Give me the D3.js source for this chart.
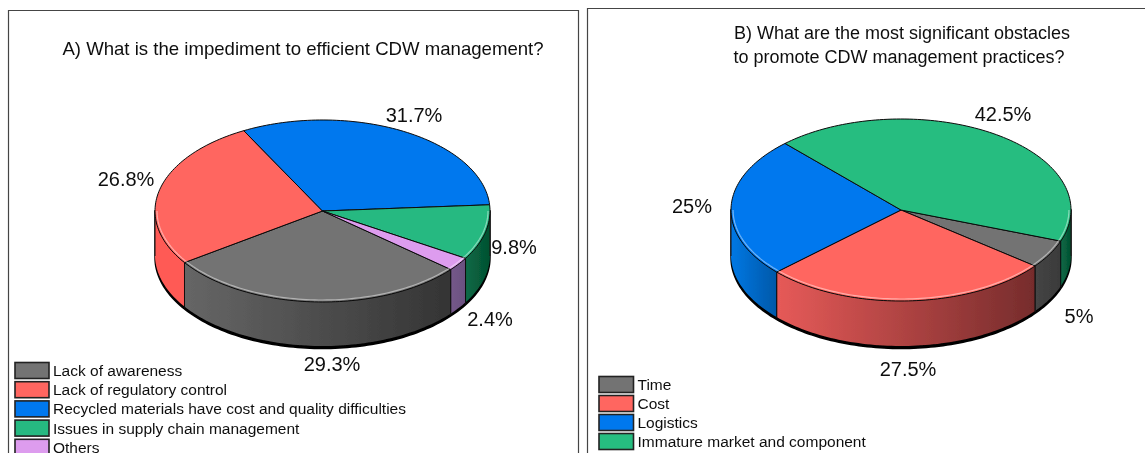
<!DOCTYPE html>
<html><head><meta charset="utf-8">
<script src="https://cdn.jsdelivr.net/npm/d3@7/dist/d3.min.js"></script>
<style>html,body{margin:0;padding:0;background:#fff;overflow:hidden}text{font-family:"Liberation Sans",Arial,sans-serif;fill:#111}</style>
</head><body><svg id="c" width="1145" height="453"></svg>
<script>
const labelsA=["Lack of awareness","Lack of regulatory control","Recycled materials have cost and quality difficulties","Issues in supply chain management","Others"];
const valuesA=[29.3,26.8,31.7,9.8,2.4];
const textA=["29.3%","26.8%","31.7%","9.8%","2.4%"];
const labelsB=["Time","Cost","Logistics","Immature market and component"];
const valuesB=[5,27.5,25,42.5];
const textB=["5%","27.5%","25%","42.5%"];
const titleA=["A) What is the impediment to efficient CDW management?"];
const titleB=["B) What are the most significant obstacles","to promote CDW management practices?"];
const colorsA=["#737373","#ff6660","#0078ee","#26b981","#dd9cee"];
const sidesA=[["#666","#343434"],["#ff5a55","#ff5a55"],["#0068d0","#0068d0"],["#0a6a48","#04502f"],["#75598a","#6a5080"]];
const colorsB=["#737373","#ff6660","#0078ee","#28bd80"];
const sidesB=[["#454545","#3a3a3a"],["#e65a58","#762c2c"],["#0078e4","#0058a8"],["#0a6a48","#04502f"]];

const svg=d3.select("#c"),defs=svg.append("defs");
const f=defs.append("filter").attr("id","bl").attr("x","-2%").attr("y","-2%").attr("width","104%").attr("height","104%");
f.append("feGaussianBlur").attr("stdDeviation",0.5);
const root=svg.append("g").attr("filter","url(#bl)");
const TAU=Math.PI*2;

function drawPie(o){
  const g=root.append("g");
  const sx=d3.scaleLinear().domain([-1,1]).range([o.cx-o.rx,o.cx+o.rx]);
  const sy=d3.scaleLinear().domain([-1,1]).range([o.cy-o.ry,o.cy+o.ry]);
  const px=a=>sx(Math.sin(a)),py=a=>sy(-Math.cos(a));
  const arcs=d3.pie().sort(null).startAngle(o.start).endAngle(o.start+TAU)(o.values);
  const samples=(a0,a1)=>{const n=Math.max(2,Math.ceil((a1-a0)*40));return d3.range(n+1).map(i=>a0+(a1-a0)*i/n);};
  const line=d3.line();
  const pieces=[];
  arcs.forEach((d,i)=>{
    [0,TAU].forEach(off=>{
      const a0=Math.max(d.startAngle,Math.PI/2+off),a1=Math.min(d.endAngle,Math.PI*1.5+off);
      if(a1>a0) pieces.push({a0,a1,i});
    });
  });
  const all=samples(Math.PI/2,Math.PI*1.5);
  g.append("path").attr("d",line([...all.map(a=>[px(a),py(a)+o.depth+0.5]),[px(all[all.length-1]),py(all[all.length-1])],[px(all[0]),py(all[0])]])+"Z").attr("fill","#000").attr("stroke","#000").attr("stroke-width",1.5);
  pieces.forEach((p,k)=>{
    const id=o.id+"s"+k;
    const x0=px(p.a0),x1=px(p.a1);
    const lg=defs.append("linearGradient").attr("id",id).attr("gradientUnits","userSpaceOnUse")
      .attr("x1",Math.min(x0,x1)).attr("x2",Math.max(x0,x1)).attr("y1",0).attr("y2",0);
    lg.append("stop").attr("offset",0).attr("stop-color",o.sides[p.i][0]);
    lg.append("stop").attr("offset",1).attr("stop-color",o.sides[p.i][1]);
    const top=samples(p.a0,p.a1).map(a=>[px(a),py(a)]);
    const bot=top.map(q=>[q[0],q[1]+o.depth-2]).reverse();
    g.append("path").attr("d",line([...top,...bot])+"Z").attr("fill",`url(#${id})`);
    [top[0],top[top.length-1]].forEach(q=>{
      g.append("path").attr("d",line([q,[q[0],q[1]+o.depth-1]])).attr("stroke","#111").attr("stroke-width",1).attr("fill","none");
    });
  });
  arcs.forEach((d,i)=>{
    const pts=samples(d.startAngle,d.endAngle).map(a=>[px(a),py(a)]);
    g.append("path").attr("d",line([[sx(0),sy(0)],...pts])+"Z").attr("fill",o.colors[i]).attr("stroke","#0a0a0a").attr("stroke-width",1).attr("stroke-linejoin","round");
  });
  // pale bevel just inside the front edge only
  pieces.forEach(p=>{
    const inner=samples(p.a0,p.a1).map(a=>[sx(Math.sin(a)*0.988),sy(-Math.cos(a)*0.978)]);
    g.append("path").attr("d",line(inner)).attr("fill","none").attr("stroke","#fff").attr("stroke-opacity",0.45).attr("stroke-width",1.2);
  });
  o.labelPos.forEach((q,i)=>{
    g.append("text").attr("x",q[0]).attr("y",q[1]).attr("text-anchor","middle").attr("font-size",20).text(o.text[i]);
  });
  o.title.forEach((t,i)=>{
    g.append("text").attr("x",o.titleX[i]).attr("y",o.titleY+i*24).attr("text-anchor","middle").attr("font-size",o.titleSize).text(t);
  });
  const ly=d3.scaleLinear().domain([0,o.labels.length-1]).range([o.legY,o.legY+o.legStep*(o.labels.length-1)]);
  o.labels.forEach((l,i)=>{
    g.append("rect").attr("x",o.legX).attr("y",ly(i)-8).attr("width",o.legW).attr("height",16).attr("fill",o.colors[i]).attr("stroke","#222").attr("stroke-width",1.6);
    g.append("text").attr("x",o.legX+o.legW+4).attr("y",ly(i)+5.5).attr("font-size",15.5).text(l);
  });
}
root.append("path").attr("d","M8.5,453V10.5H578.5V453").attr("fill","none").attr("stroke","#444").attr("stroke-width",1.2);
root.append("path").attr("d","M587.5,453V8.5H1145").attr("fill","none").attr("stroke","#444").attr("stroke-width",1.2);

drawPie({id:"a",cx:322.5,cy:211,rx:167.5,ry:91,depth:46,start:130*Math.PI/180,values:valuesA,colors:colorsA,sides:sidesA,
  text:textA,labelPos:[[332,371],[126,186],[414,122],[514,254],[490,326]],
  title:titleA,titleX:[303],titleY:55,titleSize:18.6,labels:labelsA,legX:15,legW:34,legY:370.5,legStep:19.2});
drawPie({id:"b",cx:901,cy:210,rx:170,ry:91,depth:47,start:110*Math.PI/180,values:valuesB,colors:colorsB,sides:sidesB,
  text:textB,labelPos:[[1079,323],[908,376],[692,213],[1003,121]],
  title:titleB,titleX:[902,899],titleY:39,titleSize:18,labels:labelsB,legX:599,legW:34.5,legY:384.5,legStep:19});
</script></body></html>
